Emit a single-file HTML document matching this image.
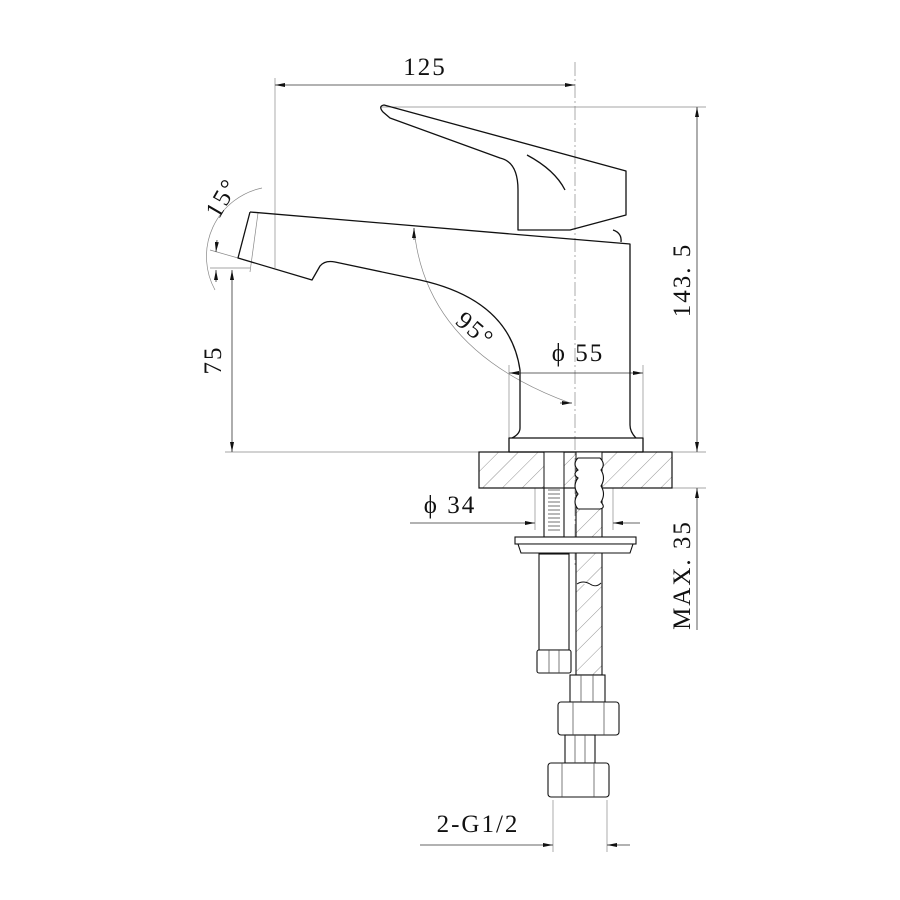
<!DOCTYPE html>
<html><head><style>body{margin:0;background:#fff}svg{display:block}text{font-family:"Liberation Serif",serif;fill:#111;letter-spacing:2px}</style></head><body>
<svg width="900" height="900" viewBox="0 0 900 900" xmlns="http://www.w3.org/2000/svg">
<defs>
<marker id="a" viewBox="0 0 10 4" refX="10" refY="2" markerWidth="10" markerHeight="4" orient="auto-start-reverse" markerUnits="userSpaceOnUse"><path d="M0,0L10,2L0,4z" fill="#111"/></marker>
<pattern id="h" width="14" height="14" patternUnits="userSpaceOnUse" patternTransform="rotate(45)"><line x1="0" y1="0" x2="0" y2="14" stroke="#666" stroke-width="0.7"/></pattern>
</defs>
<g fill="none" stroke="#888" stroke-width="0.7">
<line x1="275" y1="78" x2="275" y2="268"/>
<line x1="380" y1="107" x2="706" y2="107"/>
<line x1="225" y1="452" x2="706" y2="452"/>
<line x1="672" y1="488" x2="706" y2="488"/>
<line x1="210" y1="268" x2="250" y2="268"/>
<line x1="509" y1="365" x2="509" y2="438"/>
<line x1="643" y1="365" x2="643" y2="438"/>
<line x1="535" y1="488" x2="535" y2="530"/>
<line x1="613" y1="488" x2="613" y2="530"/>
<line x1="553" y1="800" x2="553" y2="852"/>
<line x1="607" y1="800" x2="607" y2="852"/>
<line x1="238" y1="258" x2="210" y2="250"/>
<line x1="258" y1="213" x2="250" y2="272"/>
<path d="M262,188 A70,70 0 0 0 215,290"/>
<path d="M414,228 Q425,350 570,403"/>
</g>
<line x1="575" y1="62" x2="575" y2="565" stroke="#888" stroke-width="0.7" stroke-dasharray="14,3,2,3"/>
<g stroke="#333" stroke-width="0.8" fill="none">
<line x1="275" y1="85" x2="575" y2="85" marker-start="url(#a)" marker-end="url(#a)"/>
<line x1="697" y1="107" x2="697" y2="452" marker-start="url(#a)" marker-end="url(#a)"/>
<line x1="697" y1="488" x2="697" y2="630" marker-start="url(#a)"/>
<line x1="232" y1="270" x2="232" y2="452" marker-start="url(#a)" marker-end="url(#a)"/>
<line x1="509" y1="373" x2="643" y2="373" marker-start="url(#a)" marker-end="url(#a)"/>
<line x1="410" y1="523" x2="535" y2="523" marker-end="url(#a)"/>
<line x1="640" y1="523" x2="613" y2="523" marker-end="url(#a)"/>
<line x1="420" y1="845" x2="553" y2="845" marker-end="url(#a)"/>
<line x1="630" y1="845" x2="607" y2="845" marker-end="url(#a)"/>
<line x1="414" y1="240" x2="414" y2="228" marker-end="url(#a)"/>
<line x1="560" y1="403" x2="572" y2="403" marker-end="url(#a)"/>
<line x1="216" y1="282" x2="216" y2="270" marker-end="url(#a)"/>
<line x1="217" y1="240" x2="216" y2="252" marker-end="url(#a)"/>
</g>
<g stroke="#111" stroke-width="1.3" fill="none" stroke-linejoin="round">
<path d="M383,112 Q378,106 384,105 L626,171 L626,215 L570,230 L518,230 L518,190 Q518,162 500,158 L390,118 Z"/>
<path d="M527,155 Q555,170 565,190"/>
<path d="M613,230 Q622,233 621,242"/>
<path d="M250,212 L630,244 L630,425 Q630,432 636,438"/>
<path d="M250,212 L238,258 L312,280 L320,266 Q325,260 335,262 L420,280 Q510,300 520,370 L520,428 Q520,434 512,438"/>
<rect x="509" y="438" width="134" height="14"/>
</g>
<rect x="479" y="452" width="193" height="36" fill="url(#h)" stroke="#111" stroke-width="1.2"/>
<rect x="544" y="452" width="20" height="36" fill="#fff" stroke="#111"/>
<rect x="576" y="452" width="26" height="36" fill="#fff" stroke="#111"/>
<g stroke="#111" stroke-width="1.1" fill="#fff">
<rect x="544" y="488" width="20" height="49"/>
<rect x="576" y="488" width="26" height="187" fill="url(#h)"/>
<path d="M578,470 Q572,464 578,458 L600,458 Q606,464 601,470 Q606,478 601,486 Q606,494 601,502 Q606,508 600,509 L578,509 Q572,502 578,494 Q572,486 578,478 Q572,474 578,470 Z"/>
<rect x="515" y="537" width="121" height="7"/>
<path d="M518,544 L633,544 L630,553 L521,553 Z"/>
<rect x="539" y="554" width="30" height="96"/>
<rect x="537" y="650" width="34" height="23" rx="2"/>
<rect x="570" y="675" width="35" height="27"/>
<rect x="558" y="702" width="61" height="33" rx="3"/>
<rect x="565" y="735" width="30" height="28"/>
<rect x="548" y="763" width="61" height="34" rx="3"/>
</g>
<g stroke="#444" stroke-width="0.7" fill="none">
<path d="M548,490 H560 M548,494 H560 M548,498 H560 M548,502 H560 M548,506 H560 M548,510 H560 M548,514 H560 M548,518 H560 M548,522 H560 M548,526 H560 M548,530 H560"/>
<path d="M549,650 V673 M559,650 V673 M581,675 V702 M593,675 V702 M573,702 V735 M604,702 V735 M575,735 V763 M585,735 V763 M562,763 V797 M594,763 V797"/>
</g>
<path d="M577,586 Q583,582 590,586 Q596,590 601,585 L601,582 L577,582 Z" fill="#fff" stroke="none"/>
<path d="M577,584 Q583,580 590,584 Q596,588 601,583" fill="none" stroke="#111" stroke-width="0.9"/>
<text x="425" y="75" font-size="25" text-anchor="middle">125</text>
<text transform="translate(690,280) rotate(-90)" font-size="25" text-anchor="middle">143. 5</text>
<text transform="translate(690,575) rotate(-90)" font-size="25" text-anchor="middle">MAX. 35</text>
<text transform="translate(221,360) rotate(-90)" font-size="25" text-anchor="middle">75</text>
<text transform="translate(229,202) rotate(-60)" font-size="25" text-anchor="middle">15°</text>
<text transform="translate(470,336) rotate(40)" font-size="25" text-anchor="middle">95°</text>
<text x="578" y="361" font-size="25" text-anchor="middle">ϕ 55</text>
<text x="450" y="513" font-size="25" text-anchor="middle">ϕ 34</text>
<text x="478" y="832" font-size="25" text-anchor="middle">2-G1/2</text>
</svg>
</body></html>
